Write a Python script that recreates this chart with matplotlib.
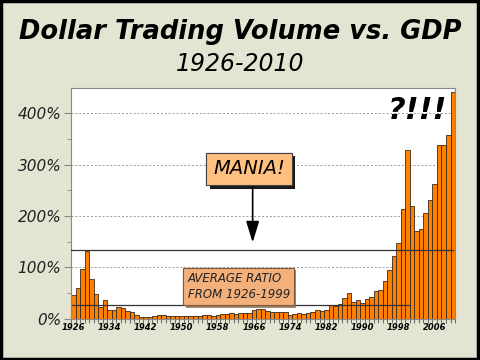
import matplotlib
matplotlib.use("Agg")
import matplotlib.pyplot as plt
import matplotlib.patheffects as pe
from matplotlib.patches import Rectangle
import numpy as np

years = list(range(1926, 2011))
ratio = [46, 59, 97, 132, 77, 48, 23, 36, 16, 16,
         22, 21, 14, 12, 7, 4, 3, 4, 5, 7,
         7, 6, 5, 5, 6, 6, 5, 5, 6, 7,
         7, 6, 7, 8, 8, 10, 9, 10, 10, 11,
         16, 18, 19, 15, 12, 13, 13, 12, 7, 9,
         10, 9, 10, 12, 16, 15, 17, 27, 25, 29,
         40, 50, 33, 36, 31, 38, 42, 54, 56, 74,
         94, 123, 148, 214, 328, 219, 171, 175, 205, 232,
         262, 338, 338, 359, 441]
label_years = [1926, 1934, 1942, 1950, 1958, 1966, 1974, 1982, 1990, 1998, 2006]
yticks = [0, 100, 200, 300, 400]
avg_ratio = 27      # average 1926-1999
mania_level = 133   # 1929 peak

bg = '#e4e4d2'
fig = plt.figure(figsize=(4.8, 3.6), dpi=100, facecolor=bg)
ax = fig.add_axes([0.148, 0.115, 0.800, 0.641])
ax.set_facecolor('white')

ax.bar(years, ratio, width=1.0, color='#ff8000', edgecolor='#3a2a1a', linewidth=0.6, zorder=2)

# grid
for v in yticks[1:]:
    ax.axhline(v, color='#999999', linestyle=(0, (2, 2)), linewidth=0.7, zorder=1)

# reference lines
ax.plot([1925.5, 2010.0], [mania_level, mania_level], color='#333333', linewidth=0.9, zorder=3)
ax.plot([1925.8, 2000.5], [avg_ratio, avg_ratio], color='#333333', linewidth=0.9, zorder=3)

ax.set_xlim(1925.5, 2010.5)
ax.set_ylim(0, 450)

ax.set_yticks(yticks)
ax.set_yticklabels([f'{v}%' for v in yticks], fontsize=11, style='italic', color='#222222')
ax.set_yticks([50, 150, 250, 350], minor=True)
ax.tick_params(axis='y', which='major', length=5, color='#888888', pad=2)
ax.tick_params(axis='y', which='minor', length=3, color='#888888')

ax.set_xticks(label_years)
ax.set_xticklabels([str(y) for y in label_years], fontsize=6, fontweight='bold', style='italic')
ax.set_xticks(np.arange(1925.5, 2011, 1), minor=True)
ax.tick_params(axis='x', which='major', length=0, pad=3)
ax.tick_params(axis='x', which='minor', length=3, color='#555555')

for s in ax.spines.values():
    s.set_color('#888888')
    s.set_linewidth(0.8)

# titles
fig.text(0.5, 0.912, 'Dollar Trading Volume vs. GDP', ha='center', va='center',
         fontsize=18.5, fontweight='bold', style='italic')
fig.text(0.5, 0.823, '1926-2010', ha='center', va='center', fontsize=17, style='italic')

# annotations
ax.text(2002.3, 406, '?!!!', ha='center', va='center', fontsize=22,
        fontweight='bold', style='italic', zorder=5)

t1 = ax.text(1964.9, 292, 'MANIA!', ha='center', va='center', fontsize=14, style='italic',
             zorder=6, bbox=dict(boxstyle='square,pad=0.35', facecolor='#ffc080',
                                 edgecolor='#444444', linewidth=0.8))
t1.get_bbox_patch().set_path_effects([pe.withSimplePatchShadow(offset=(2.5, -2.5),
                                      shadow_rgbFace='black', alpha=0.9), pe.Normal()])
ax.annotate('', xy=(1965.7, 143), xytext=(1965.7, 266),
            arrowprops=dict(arrowstyle='-|>,head_width=0.4,head_length=1.3',
                            color='black', linewidth=1.2), zorder=5)

t2 = ax.text(1951.3, 62, 'AVERAGE RATIO\nFROM 1926-1999', ha='left', va='center', fontsize=8.5,
             style='italic', color='#222222', linespacing=1.3, zorder=6,
             bbox=dict(boxstyle='square,pad=0.35', facecolor='#f4b07a',
                       edgecolor='#7a5a3a', linewidth=0.8))
t2.get_bbox_patch().set_path_effects([pe.withSimplePatchShadow(offset=(1.5, -1.5),
                                      shadow_rgbFace='#8a6a4a', alpha=0.8), pe.Normal()])

# outer frame
fig.patches.append(Rectangle((0.002, 0.003), 0.994, 0.994, transform=fig.transFigure,
                             fill=False, edgecolor='black', linewidth=2.5))

fig.savefig('out.png', dpi=100, facecolor=bg)
